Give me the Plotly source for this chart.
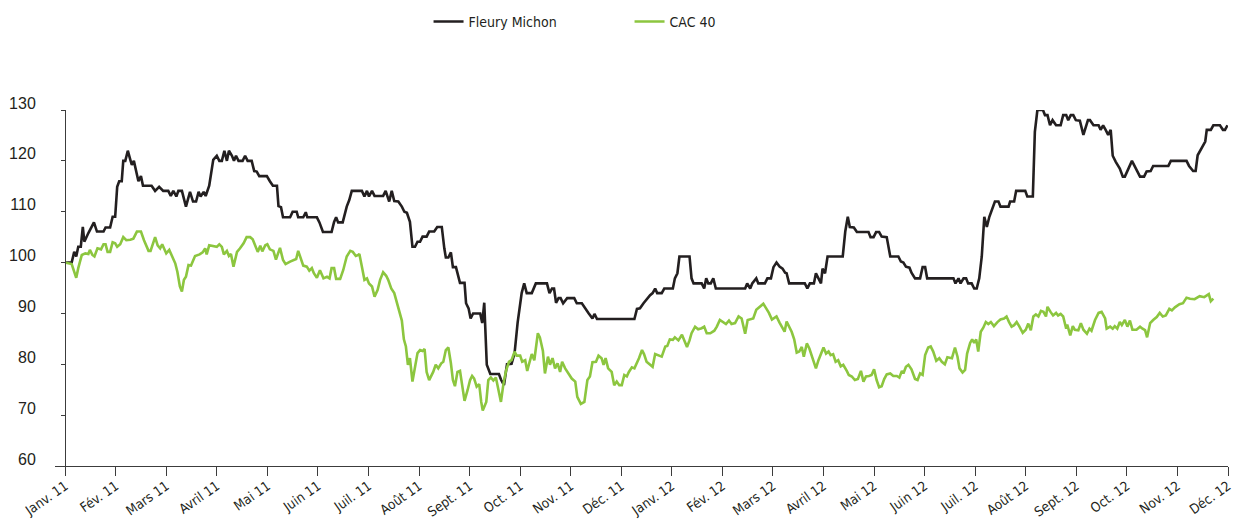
import plotly.graph_objects as go

# Mois (index 0 = janv. 2011) et indices base 100
MOIS = ["Janv. 11", "Fév. 11", "Mars 11", "Avril 11", "Mai 11", "Juin 11",
        "Juil. 11", "Août 11", "Sept. 11", "Oct. 11", "Nov. 11", "Déc. 11",
        "Janv. 12", "Fév. 12", "Mars 12", "Avril 12", "Mai 12", "Juin 12",
        "Juil. 12", "Août 12", "Sept. 12", "Oct. 12", "Nov. 12", "Déc. 12"]

fm_mois = [
    0.00, 0.13, 0.18, 0.22, 0.26, 0.31, 0.35, 0.38, 0.46, 0.57, 0.63, 0.76, 0.80, 0.89,
    0.94, 0.99, 1.03, 1.07, 1.12, 1.15, 1.19, 1.24, 1.29, 1.32, 1.36, 1.42, 1.45, 1.50,
    1.54, 1.71, 1.78, 1.86, 1.94, 2.04, 2.09, 2.14, 2.20, 2.24, 2.31, 2.39, 2.47, 2.53,
    2.59, 2.64, 2.68, 2.74, 2.78, 2.85, 2.93, 3.00, 3.05, 3.10, 3.15, 3.20, 3.24, 3.30,
    3.34, 3.38, 3.43, 3.51, 3.56, 3.61, 3.69, 3.74, 3.79, 3.84, 3.99, 4.05, 4.11, 4.19,
    4.22, 4.27, 4.31, 4.45, 4.50, 4.58, 4.61, 4.71, 4.76, 4.79, 4.98, 5.03, 5.10, 5.27,
    5.32, 5.36, 5.40, 5.49, 5.57, 5.62, 5.67, 5.87, 5.92, 5.97, 6.01, 6.07, 6.12, 6.29,
    6.34, 6.41, 6.46, 6.51, 6.59, 6.66, 6.71, 6.76, 6.82, 6.87, 6.92, 6.97, 7.02, 7.07,
    7.15, 7.20, 7.30, 7.36, 7.45, 7.50, 7.53, 7.58, 7.63, 7.67, 7.73, 7.81, 7.90, 7.93,
    7.98, 8.02, 8.07, 8.21, 8.25, 8.29, 8.34, 8.41, 8.58, 8.62, 8.68, 8.74, 8.83, 8.89,
    8.95, 9.03, 9.08, 9.13, 9.23, 9.31, 9.53, 9.58, 9.63, 9.67, 9.71, 9.76, 9.80, 9.85,
    9.93, 10.07, 10.12, 10.22, 10.28, 10.35, 10.43, 10.47, 10.52, 11.26, 11.31, 11.37,
    11.44, 11.52, 11.57, 11.62, 11.67, 11.71, 11.80, 11.85, 12.02, 12.06, 12.11, 12.15,
    12.35, 12.39, 12.43, 12.59, 12.64, 12.68, 12.72, 12.77, 12.82, 12.87, 13.45, 13.49,
    13.55, 13.59, 13.67, 13.71, 13.84, 13.89, 13.96, 14.01, 14.07, 14.13, 14.19, 14.24,
    14.27, 14.32, 14.63, 14.68, 14.73, 14.81, 14.85, 14.90, 14.95, 14.98, 15.03, 15.08,
    15.38, 15.43, 15.48, 15.52, 15.60, 15.66, 15.89, 15.93, 15.99, 16.04, 16.10, 16.15,
    16.25, 16.32, 16.48, 16.53, 16.58, 16.63, 16.70, 16.74, 16.81, 16.91, 16.96, 17.01,
    17.05, 17.57, 17.61, 17.67, 17.71, 17.77, 17.82, 17.86, 17.93, 17.98, 18.03, 18.08,
    18.13, 18.18, 18.23, 18.28, 18.39, 18.46, 18.50, 18.66, 18.69, 18.77, 18.81, 18.99,
    19.03, 19.14, 19.18, 19.23, 19.34, 19.38, 19.43, 19.48, 19.53, 19.60, 19.69, 19.74,
    19.80, 19.84, 19.89, 19.94, 19.99, 20.07, 20.14, 20.23, 20.27, 20.34, 20.44, 20.48,
    20.53, 20.58, 20.63, 20.68, 20.72, 20.78, 20.83, 20.86, 20.92, 20.96, 21.10, 21.16,
    21.26, 21.34, 21.39, 21.47, 21.52, 21.82, 21.87, 22.18, 22.23, 22.31, 22.36, 22.40,
    22.47, 22.55, 22.58, 22.66, 22.71, 22.84, 22.90, 22.94, 22.99,
]
fm_val = [
    100.0, 100.0, 102.1, 101.2, 103.1, 103.1, 107.0, 104.1, 105.8, 107.9, 106.1, 106.1, 106.9, 106.9,
    109.0, 109.0, 114.9, 116.0, 116.0, 120.0, 120.0, 122.0, 120.2, 119.2, 120.0, 117.2, 116.0, 117.0,
    115.1, 115.1, 114.1, 114.9, 114.1, 114.1, 113.1, 114.1, 113.0, 114.1, 114.1, 111.0, 113.9, 112.0,
    112.0, 113.9, 113.0, 113.9, 113.1, 115.1, 120.2, 121.0, 120.0, 120.0, 122.0, 120.0, 122.0, 121.0,
    120.0, 121.0, 120.0, 120.0, 121.0, 120.0, 120.0, 118.0, 117.9, 117.0, 117.0, 116.0, 115.1, 115.1,
    111.1, 110.9, 108.9, 108.9, 110.0, 110.0, 108.9, 108.9, 109.9, 108.9, 108.9, 107.9, 106.0, 106.0,
    108.0, 108.9, 107.9, 107.9, 111.0, 112.3, 114.1, 114.1, 113.0, 114.1, 113.0, 114.1, 113.1, 113.1,
    114.1, 112.0, 114.1, 112.1, 112.0, 111.0, 110.0, 109.8, 108.0, 103.1, 103.1, 104.1, 104.1, 105.1,
    105.1, 106.1, 106.1, 107.0, 107.0, 102.8, 101.0, 101.0, 102.0, 99.1, 99.1, 96.0, 96.0, 92.0,
    91.0, 89.0, 90.0, 90.0, 88.1, 92.1, 79.9, 78.1, 78.1, 77.0, 75.9, 80.0, 80.1, 82.2,
    88.2, 94.0, 95.9, 94.0, 94.0, 95.9, 95.9, 94.0, 94.9, 94.9, 92.1, 93.0, 93.0, 92.0,
    93.0, 93.0, 92.0, 92.0, 91.0, 90.1, 89.0, 89.9, 88.9, 88.9, 90.9, 91.0,
    92.0, 93.0, 93.6, 94.0, 94.9, 94.0, 94.0, 94.9, 94.9, 96.9, 97.9, 101.2,
    101.2, 96.9, 95.9, 95.9, 94.9, 96.9, 95.9, 95.9, 96.9, 94.9, 94.9, 95.9,
    94.9, 95.9, 96.9, 95.9, 95.9, 96.9, 96.9, 99.1, 100.0, 99.2, 98.8, 98.0,
    97.9, 95.9, 95.9, 94.9, 95.9, 95.9, 97.9, 96.9, 95.9, 98.8, 97.9, 101.2,
    101.2, 106.1, 109.0, 107.0, 106.9, 106.0, 106.0, 105.0, 105.0, 106.0, 106.0, 105.1,
    105.0, 101.2, 101.2, 100.2, 100.0, 99.2, 99.0, 98.0, 96.9, 96.9, 99.1, 99.1,
    96.9, 96.9, 95.9, 96.9, 95.9, 96.9, 96.9, 95.9, 95.9, 94.9, 94.9, 96.9,
    101.2, 109.0, 107.0, 109.0, 112.0, 112.0, 111.0, 111.0, 112.0, 112.0, 114.1, 114.1,
    113.0, 113.0, 125.7, 130.0, 130.0, 129.0, 129.0, 127.0, 128.0, 127.0, 127.0, 129.0,
    129.0, 128.0, 129.0, 129.0, 128.0, 127.9, 125.1, 128.0, 128.0, 127.0, 127.0, 126.1,
    127.0, 126.1, 125.1, 126.1, 121.0, 119.8, 118.8, 118.5, 116.9, 116.9, 120.0, 118.8,
    116.9, 116.9, 117.9, 118.0, 119.0, 119.0, 120.0, 120.0, 119.0, 118.0, 118.0, 121.1,
    122.5, 123.8, 126.1, 126.1, 127.0, 127.0, 126.1, 126.1, 127.0,
]

cac_mois = [
    0.00, 0.13, 0.22, 0.26, 0.33, 0.40, 0.46, 0.49, 0.54, 0.58, 0.64, 0.71, 0.76, 0.80,
    0.84, 0.89, 0.94, 0.99, 1.03, 1.09, 1.15, 1.21, 1.29, 1.35, 1.42, 1.50, 1.56, 1.65,
    1.69, 1.78, 1.83, 1.88, 1.92, 2.00, 2.06, 2.11, 2.18, 2.22, 2.27, 2.31, 2.35, 2.39,
    2.44, 2.49, 2.54, 2.57, 2.66, 2.72, 2.77, 2.80, 2.85, 2.93, 3.00, 3.05, 3.10, 3.14,
    3.20, 3.24, 3.28, 3.33, 3.40, 3.46, 3.53, 3.59, 3.66, 3.71, 3.76, 3.81, 3.86, 3.90,
    3.96, 4.00, 4.05, 4.12, 4.17, 4.25, 4.31, 4.36, 4.45, 4.51, 4.57, 4.61, 4.66, 4.71,
    4.78, 4.83, 4.88, 4.92, 4.98, 5.04, 5.11, 5.18, 5.23, 5.27, 5.32, 5.36, 5.44, 5.50,
    5.57, 5.64, 5.69, 5.75, 5.80, 5.82, 5.87, 5.92, 5.97, 6.01, 6.07, 6.12, 6.18, 6.23,
    6.29, 6.35, 6.39, 6.45, 6.51, 6.56, 6.61, 6.66, 6.70, 6.74, 6.78, 6.82, 6.87, 6.92,
    6.97, 7.02, 7.07, 7.11, 7.15, 7.20, 7.28, 7.33, 7.38, 7.44, 7.48, 7.53, 7.58, 7.63,
    7.67, 7.71, 7.76, 7.81, 7.86, 7.90, 7.96, 8.01, 8.05, 8.09, 8.14, 8.19, 8.23, 8.26,
    8.33, 8.37, 8.42, 8.47, 8.52, 8.56, 8.62, 8.67, 8.72, 8.78, 8.83, 8.89, 8.93, 9.00,
    9.04, 9.10, 9.14, 9.18, 9.23, 9.28, 9.35, 9.39, 9.45, 9.49, 9.55, 9.59, 9.64, 9.69,
    9.74, 9.79, 9.83, 9.89, 9.95, 10.02, 10.09, 10.13, 10.20, 10.27, 10.33, 10.38, 10.43, 10.50,
    10.55, 10.61, 10.65, 10.69, 10.74, 10.81, 10.86, 10.91, 10.96, 11.01, 11.06, 11.11, 11.15, 11.21,
    11.26, 11.31, 11.35, 11.41, 11.45, 11.50, 11.57, 11.62, 11.67, 11.73, 11.80, 11.87, 11.91, 11.96,
    12.02, 12.06, 12.13, 12.20, 12.24, 12.30, 12.35, 12.39, 12.46, 12.52, 12.59, 12.64, 12.69, 12.76,
    12.84, 12.89, 12.95, 13.02, 13.07, 13.13, 13.18, 13.25, 13.32, 13.38, 13.45, 13.50, 13.56, 13.61,
    13.67, 13.73, 13.81, 13.86, 13.92, 13.98, 14.02, 14.07, 14.13, 14.17, 14.23, 14.27, 14.32, 14.37,
    14.42, 14.47, 14.52, 14.57, 14.61, 14.67, 14.72, 14.79, 14.85, 14.90, 14.95, 15.00, 15.05, 15.10,
    15.14, 15.19, 15.24, 15.29, 15.34, 15.39, 15.46, 15.50, 15.56, 15.62, 15.68, 15.74, 15.79, 15.84,
    15.90, 15.95, 16.00, 16.05, 16.10, 16.15, 16.20, 16.25, 16.32, 16.38, 16.45, 16.50, 16.55, 16.58,
    16.63, 16.68, 16.74, 16.81, 16.86, 16.91, 16.96, 17.01, 17.07, 17.12, 17.17, 17.23, 17.29, 17.34,
    17.40, 17.45, 17.54, 17.60, 17.65, 17.69, 17.75, 17.80, 17.84, 17.90, 17.94, 17.98, 18.02, 18.06,
    18.11, 18.16, 18.21, 18.26, 18.31, 18.37, 18.44, 18.50, 18.57, 18.62, 18.67, 18.72, 18.77, 18.82,
    18.87, 18.94, 19.00, 19.05, 19.10, 19.15, 19.20, 19.25, 19.30, 19.35, 19.40, 19.43, 19.49, 19.54,
    19.60, 19.64, 19.69, 19.74, 19.80, 19.82, 19.88, 19.93, 19.97, 20.04, 20.09, 20.14, 20.21, 20.26,
    20.30, 20.37, 20.44, 20.50, 20.57, 20.60, 20.67, 20.72, 20.76, 20.81, 20.86, 20.90, 20.96, 21.01,
    21.06, 21.11, 21.19, 21.26, 21.31, 21.36, 21.40, 21.46, 21.52, 21.59, 21.65, 21.71, 21.77, 21.84,
    21.89, 21.95, 22.04, 22.11, 22.18, 22.25, 22.34, 22.44, 22.53, 22.58, 22.62, 22.66, 22.71,
]
cac_val = [
    100.0, 99.7, 97.0, 98.9, 101.5, 101.8, 101.7, 102.5, 101.5, 101.2, 102.8, 102.6, 103.6, 103.6,
    102.1, 102.1, 104.0, 103.8, 103.1, 103.6, 105.0, 104.4, 104.5, 104.7, 106.1, 106.1, 104.4, 102.3,
    102.3, 105.0, 103.4, 102.8, 103.6, 101.8, 102.5, 101.5, 99.8, 98.2, 95.3, 94.3, 96.6, 97.2,
    99.5, 99.4, 100.5, 101.3, 101.6, 102.0, 102.8, 101.6, 103.4, 103.3, 103.1, 103.6, 103.1, 101.6,
    102.3, 101.3, 101.7, 99.2, 102.1, 102.8, 103.8, 105.0, 105.0, 104.6, 103.4, 102.1, 103.3, 102.2,
    103.4, 103.6, 102.6, 102.3, 100.6, 102.9, 100.5, 99.7, 100.2, 100.5, 100.7, 102.3, 100.6, 99.4,
    99.2, 98.4, 98.9, 97.9, 97.0, 98.5, 96.9, 97.2, 96.9, 98.9, 98.9, 96.8, 96.8, 98.5,
    101.2, 102.3, 102.1, 101.3, 101.5, 101.7, 99.2, 96.6, 96.9, 95.9, 95.3, 93.3, 94.6, 96.6,
    98.1, 97.4, 96.6, 94.9, 94.0, 92.3, 90.6, 88.6, 84.9, 83.5, 79.9, 81.2, 76.6, 79.5,
    82.2, 82.8, 82.6, 83.0, 78.5, 76.9, 78.5, 79.9, 79.2, 80.2, 80.5, 82.8, 83.3, 80.2,
    76.9, 75.7, 78.5, 78.7, 75.6, 72.8, 74.9, 76.9, 77.7, 77.2, 75.6, 76.1, 72.6, 70.9,
    72.6, 76.9, 77.4, 76.8, 77.4, 75.6, 72.6, 76.2, 78.7, 80.5, 80.8, 82.5, 81.7, 81.7,
    80.5, 80.8, 78.7, 80.2, 82.0, 80.8, 86.1, 85.3, 82.6, 78.2, 81.5, 79.9, 81.2, 79.2,
    80.2, 78.5, 80.5, 79.2, 78.2, 77.2, 76.6, 73.6, 72.2, 72.6, 76.9, 77.6, 80.4, 80.5,
    81.7, 81.2, 79.9, 81.2, 79.2, 78.5, 75.9, 76.6, 75.9, 75.9, 77.9, 77.6, 78.5, 79.4,
    79.2, 80.2, 81.2, 82.8, 82.0, 80.5, 79.9, 79.5, 82.0, 81.8, 81.5, 83.5, 83.6, 84.9,
    84.8, 85.3, 84.7, 85.8, 84.8, 83.4, 84.7, 86.1, 87.4, 86.9, 87.1, 87.4, 86.1, 86.1,
    86.6, 87.4, 88.7, 88.2, 87.9, 88.6, 87.9, 88.1, 89.4, 89.0, 86.0, 88.7, 88.8, 89.0,
    90.7, 91.2, 91.9, 91.1, 90.1, 88.8, 89.0, 89.4, 88.2, 87.4, 86.4, 88.4, 87.4, 86.4,
    84.9, 82.3, 82.5, 83.4, 81.5, 84.1, 83.1, 81.2, 79.2, 80.8, 82.1, 83.3, 82.1, 82.5,
    81.8, 82.0, 80.5, 80.8, 79.6, 79.9, 78.7, 77.9, 77.6, 76.9, 77.1, 78.7, 76.6, 77.6,
    77.7, 77.9, 79.0, 76.9, 75.5, 75.7, 77.1, 78.0, 78.2, 77.7, 77.7, 77.4, 78.7, 78.2,
    79.5, 79.9, 79.0, 77.1, 76.9, 78.2, 77.9, 81.8, 83.3, 83.5, 82.5, 80.7, 81.2, 80.5,
    80.0, 81.4, 81.2, 83.3, 81.5, 79.2, 78.4, 78.9, 82.1, 84.2, 84.9, 84.2, 84.9, 82.5,
    86.4, 87.2, 88.3, 87.9, 88.3, 87.5, 88.3, 88.8, 89.0, 89.4, 88.3, 87.4, 87.7, 88.3,
    87.5, 86.2, 86.8, 88.0, 86.7, 89.4, 89.8, 89.4, 90.5, 90.3, 89.4, 91.3, 90.3, 89.6,
    90.1, 89.6, 89.9, 89.4, 87.0, 87.8, 85.7, 87.5, 86.8, 86.7, 88.1, 86.8, 86.0, 87.0,
    86.6, 88.7, 90.1, 90.3, 89.0, 87.0, 87.4, 87.0, 87.5, 87.0, 88.3, 87.7, 88.7, 87.4,
    88.6, 86.8, 86.8, 87.4, 87.0, 86.7, 85.3, 88.1, 88.7, 89.3, 90.1, 89.4, 89.6, 90.9,
    90.6, 91.2, 91.8, 92.0, 93.1, 92.9, 92.8, 93.4, 93.2, 93.6, 93.8, 92.4, 92.9,
]

NOIR = "#231f20"
VERT = "#8cc63f"
AXE = "#3c3c3c"
# pas de police condensée type Helvetica Condensed : DejaVu Condensed sinon Roboto
CONDENSED = "DejaVu Sans Condensed, Roboto, sans-serif"

fig = go.Figure()
fig.add_trace(go.Scatter(x=fm_mois, y=fm_val, mode="lines", name="Fleury Michon",
                         line=dict(color=NOIR, width=2.6)))
fig.add_trace(go.Scatter(x=cac_mois, y=cac_val, mode="lines", name="CAC 40",
                         line=dict(color=VERT, width=2.6)))

ticks = list(range(len(MOIS)))
fig.update_layout(
    width=1235, height=520,
    margin=dict(l=55, r=7, t=110, b=54, autoexpand=False),
    paper_bgcolor="white", plot_bgcolor="white",
    font=dict(family="Liberation Sans, Arial, sans-serif", color=NOIR),
    showlegend=True,
    legend=dict(orientation="h", xref="container", yref="container",
                x=0.347, xanchor="left", y=0.958, yanchor="middle",
                font=dict(family=CONDENSED, size=14, color=NOIR),
                entrywidth=156, itemwidth=30),
    xaxis=dict(range=[-0.2, 23], tickmode="array", tickvals=ticks, ticktext=MOIS,
               tickangle=-35, ticks="outside", ticklen=9, tickwidth=1.2,
               tickcolor=AXE, showline=True, linecolor=AXE, linewidth=1.2,
               showgrid=False, zeroline=False, automargin=False,
               ticklabelstandoff=-3,
               tickfont=dict(family=CONDENSED, size=13.5, color=NOIR)),
    xaxis2=dict(range=[-0.2, 23], overlaying="x", matches="x", anchor="y",
                tickmode="array", tickvals=ticks, ticks="inside", ticklen=8,
                tickwidth=1.2, tickcolor=AXE, showticklabels=False,
                showline=False, showgrid=False, zeroline=False, automargin=False),
    yaxis=dict(range=[60, 130], tickmode="array", tickvals=list(range(60, 131, 10)),
               anchor="free", position=0.2 / 23.2,
               ticks="outside", ticklen=4, tickwidth=1.2, tickcolor=AXE,
               showline=True, linecolor=AXE, linewidth=1.2,
               showgrid=False, zeroline=False, automargin=False,
               ticklabelstandoff=22, ticklabelshift=-7,
               tickfont=dict(size=16, color=NOIR)),
)

# la page HTML a une marge de 8 px par défaut : on la retire
fig.write_html("out.html", config={"displayModeBar": False},
               post_script="document.body.style.margin='0';")
